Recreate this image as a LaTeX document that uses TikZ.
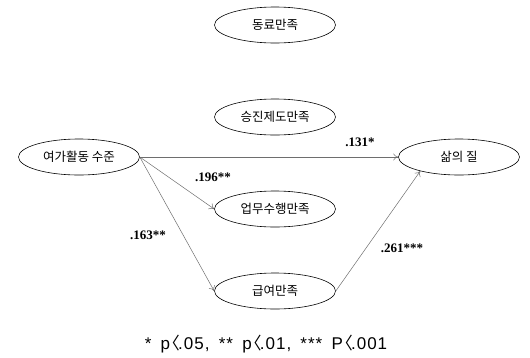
\documentclass[tikz,border=0pt]{standalone}
\usepackage{fontspec}
\setmainfont{Liberation Serif}
\newfontfamily\kofont{Noto Sans CJK KR}
\newfontfamily\notefont[LetterSpace=6, WordSpace=1.6]{Liberation Sans}
\newfontfamily\bracketfont{Noto Sans CJK KR}
\usetikzlibrary{arrows.meta}
\usetikzlibrary{shapes.geometric}
\usetikzlibrary{positioning}
\definecolor{edgegray}{RGB}{110, 110, 110}
\newcommand{\lt}{\kern-0.42em{\bracketfont 〈}\kern-0.1em}

\tikzset{
    factor/.style={draw=black, semithick, ellipse, minimum width=121pt, minimum height=36pt,
                   inner sep=0pt, font=\kofont\fontsize{12.5}{14}\selectfont},
    effect/.style={draw=edgegray, line width=0.5pt, -{To[length=5pt, width=7pt]}},
    coef/.style={font=\bfseries\fontsize{13}{15}\selectfont, inner sep=0pt}
}

\begin{document}
\begin{tikzpicture}[x=1pt, y=-1pt]
            % Frame to fix the size
            \useasboundingbox (0, 0) rectangle (530, 357);
            % Variables
            \node[factor] (coworker)  at (275,  25) {동료만족};
            \node[factor] (promotion) at (275, 117) {승진제도만족};
            \node[factor] (leisure)   at ( 79, 157) {여가활동 수준};
            \node[factor] (quality)   at (459, 157) {삶의 질};
            \node[factor] (task)      at (275, 209) {업무수행만족};
            \node[factor] (pay)       at (275, 291) {급여만족};
            % Paths
            \draw[effect] (leisure.east) -- (quality.west);
            \draw[effect] (leisure.east) -- (task.west);
            \draw[effect] (leisure.east) -- (pay.west);
            \draw[effect] (pay.east)     -- (quality.200);
            % Coefficients
            \node[coef] (c131) at (360, 142) {.131*};
            \node[coef] (c196) at (213, 177) {.196**};
            \node[coef] (c163) at (148, 235) {.163**};
            \node[coef] (c261) at (402, 248) {.261***};
            % Significance note
            \node[font=\notefont\fontsize{17}{19}\selectfont] (note) at (266, 344) {* p\lt.05, ** p\lt.01, *** P\lt.001};
        \end{tikzpicture}
\end{document}
